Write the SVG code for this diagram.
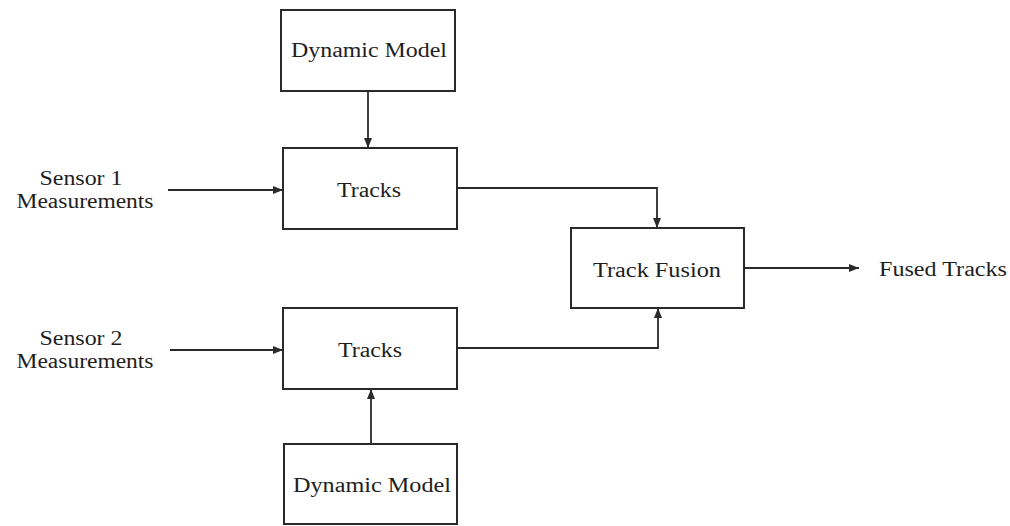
<svg xmlns="http://www.w3.org/2000/svg" width="1010" height="526" viewBox="0 0 1010 526">
<style>
.box{fill:#fff;stroke:#2a2a2a;stroke-width:2}
.t{font-family:"Liberation Serif","DejaVu Serif",serif;font-size:20px;fill:#1e1e1e;text-anchor:middle}
.ts{font-family:"Liberation Serif","DejaVu Serif",serif;font-size:20px;fill:#1e1e1e}
.c{fill:none;stroke:#2a2a2a;stroke-width:1.8;marker-end:url(#ah)}
</style>
<defs>
<marker id="ah" viewBox="0 0 10 8" refX="10" refY="4" markerWidth="10" markerHeight="8" markerUnits="userSpaceOnUse" orient="auto">
<path d="M0,0 L10,4 L0,8 Z" fill="#2a2a2a"/>
</marker>
</defs>
<rect width="1010" height="526" fill="#fff"/>
<g id="connectors">
<path class="c" d="M368,91 V148"/>
<path class="c" d="M168,190 H283"/>
<path class="c" d="M170,350 H283"/>
<path class="c" d="M457,188 H657 V228"/>
<path class="c" d="M457,348 H658 V308"/>
<path class="c" d="M744,268 H859"/>
<path class="c" d="M371,444 V389"/>
</g>
<g id="dynamic-model-1"><rect class="box" x="281" y="10" width="174" height="81"/><text class="t" x="369" y="57" textLength="156" lengthAdjust="spacingAndGlyphs">Dynamic Model</text></g>
<g id="tracks-1"><rect class="box" x="283" y="148" width="174" height="81"/><text class="t" x="369" y="197" textLength="64" lengthAdjust="spacingAndGlyphs">Tracks</text></g>
<g id="track-fusion"><rect class="box" x="571" y="228" width="173" height="80"/><text class="t" x="657" y="277" textLength="128" lengthAdjust="spacingAndGlyphs">Track Fusion</text></g>
<g id="tracks-2"><rect class="box" x="283" y="308" width="174" height="81"/><text class="t" x="370" y="357" textLength="64" lengthAdjust="spacingAndGlyphs">Tracks</text></g>
<g id="dynamic-model-2"><rect class="box" x="284" y="444" width="173" height="80"/><text class="t" x="372" y="492" textLength="158" lengthAdjust="spacingAndGlyphs">Dynamic Model</text></g>
<g id="sensor-1"><text class="t" x="81" y="185" textLength="83" lengthAdjust="spacingAndGlyphs">Sensor 1</text><text class="t" x="85" y="208" textLength="137" lengthAdjust="spacingAndGlyphs">Measurements</text></g>
<g id="sensor-2"><text class="t" x="81" y="345" textLength="83" lengthAdjust="spacingAndGlyphs">Sensor 2</text><text class="t" x="85" y="368" textLength="137" lengthAdjust="spacingAndGlyphs">Measurements</text></g>
<g id="fused-tracks"><text class="ts" x="879" y="276" textLength="128" lengthAdjust="spacingAndGlyphs">Fused Tracks</text></g>
</svg>
